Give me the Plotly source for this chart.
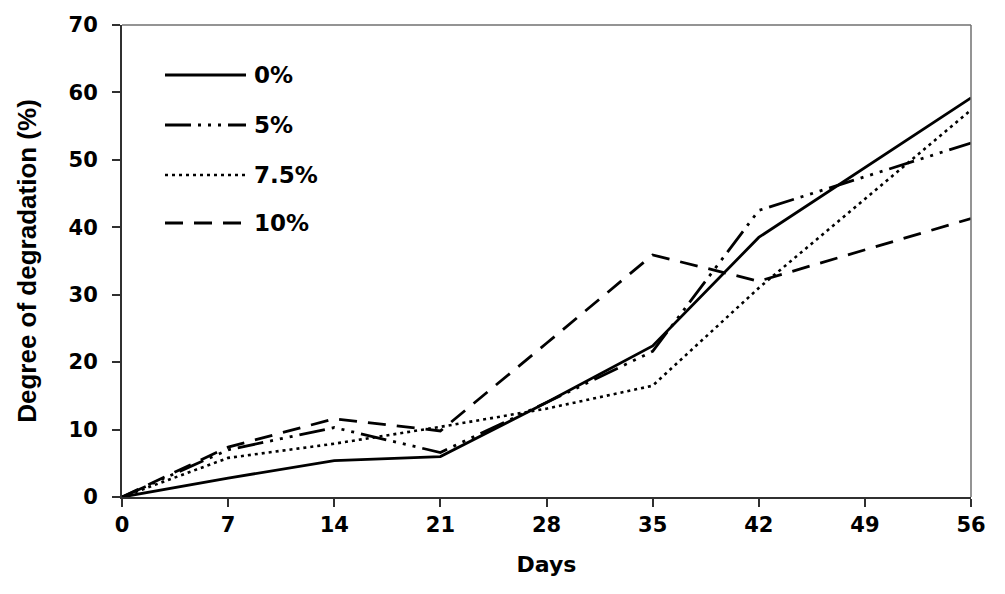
import plotly.graph_objects as go

days = [0, 7, 14, 21, 28, 35, 42, 49, 56]
series_names = ["0%", "5%", "7.5%", "10%"]
deg_0 = [0, 2.8, 5.4, 6.0, 14.0, 22.4, 38.5, 48.9, 59.2]
deg_5 = [0, 7.0, 10.3, 6.6, 14.0, 21.6, 42.5, 47.5, 52.5]
deg_7_5 = [0, 5.8, 7.9, 10.4, 13.1, 16.5, 31.0, 44.2, 57.4]
deg_10 = [0, 7.4, 11.6, 9.8, 22.8, 35.9, 32.0, 36.6, 41.3]
y_ticks = [0, 10, 20, 30, 40, 50, 60, 70]

values = [deg_0, deg_5, deg_7_5, deg_10]
dashes = ["solid", "26px,7px,3px,7px,3px,7px,3px,7px", "3px,4px", "18px,11px"]
widths = [2.8, 2.8, 2.6, 2.8]

WIDE = "DejaVu Sans, sans-serif"
NARROW = "Liberation Sans, Arial, sans-serif"

fig = go.Figure()
for name, vals, dash, w in zip(series_names, values, dashes, widths):
    fig.add_trace(go.Scatter(x=days, y=vals, mode="lines", name=name,
                             line=dict(color="black", width=w, dash=dash),
                             showlegend=False))

# page has an 8px body margin; plot area in page pixels: x 122..971, y 25..497
W, H = 997, 586
ml, mr, mt, mb = 114, 34, 17, 97
PX0, PX1, PY0, PY1 = 122, 971, 25, 497
def px_x(p):
    return (p - PX0) / (PX1 - PX0)
def px_y(p):
    return 1 - (p - PY0) / (PY1 - PY0)

leg_y = [75, 125, 175, 223]
shapes = []
annotations = []
for name, dash, w, yy in zip(series_names, dashes, widths, leg_y):
    shapes.append(dict(type="line", xref="paper", yref="paper",
                       x0=px_x(165), x1=px_x(246), y0=px_y(yy), y1=px_y(yy),
                       line=dict(color="black", width=w, dash=dash)))
    annotations.append(dict(xref="paper", yref="paper", x=px_x(252), y=px_y(yy),
                            text="<b>" + name + "</b>", showarrow=False,
                            xanchor="left", yanchor="middle",
                            font=dict(family=WIDE, size=23, color="black")))
# top and right frame lines
shapes.append(dict(type="line", xref="paper", yref="paper", x0=1, x1=1, y0=0, y1=1,
                   line=dict(color="#707070", width=1.5)))
shapes.append(dict(type="line", xref="paper", yref="paper", x0=0, x1=1, y0=1, y1=1,
                   line=dict(color="#707070", width=1.5)))

fig.update_layout(
    template="none",
    width=W, height=H,
    margin=dict(l=ml, r=mr, t=mt, b=mb, autoexpand=False),
    plot_bgcolor="white", paper_bgcolor="white",
    font=dict(family=WIDE, size=20, color="black"),
    shapes=shapes, annotations=annotations,
    xaxis=dict(range=[0, 56], tickvals=days, ticktext=["<b>%d</b>" % d for d in days],
               automargin=False,
               showgrid=False, zeroline=False, showline=True, linecolor="#303030",
               linewidth=2, ticks="outside", ticklen=8, tickwidth=1.5, tickcolor="#303030",
               tickfont=dict(family=WIDE, size=21, color="black"),
               title=dict(text="<b>Days</b>", font=dict(family=WIDE, size=22), standoff=20)),
    yaxis=dict(range=[0, 70], tickvals=y_ticks, ticktext=["<b>%d</b>" % v for v in y_ticks],
               automargin=False,
               showgrid=False, zeroline=False,
               showline=True, linecolor="#303030", linewidth=2, ticks="outside",
               ticklen=8, tickwidth=1.5, tickcolor="#303030", ticklabelstandoff=10,
               tickfont=dict(family=WIDE, size=21, color="black"),
               title=dict(text="<b>Degree of degradation (%)</b>",
                          font=dict(family=NARROW, size=26), standoff=24)),
)

fig.write_html("out.html")
